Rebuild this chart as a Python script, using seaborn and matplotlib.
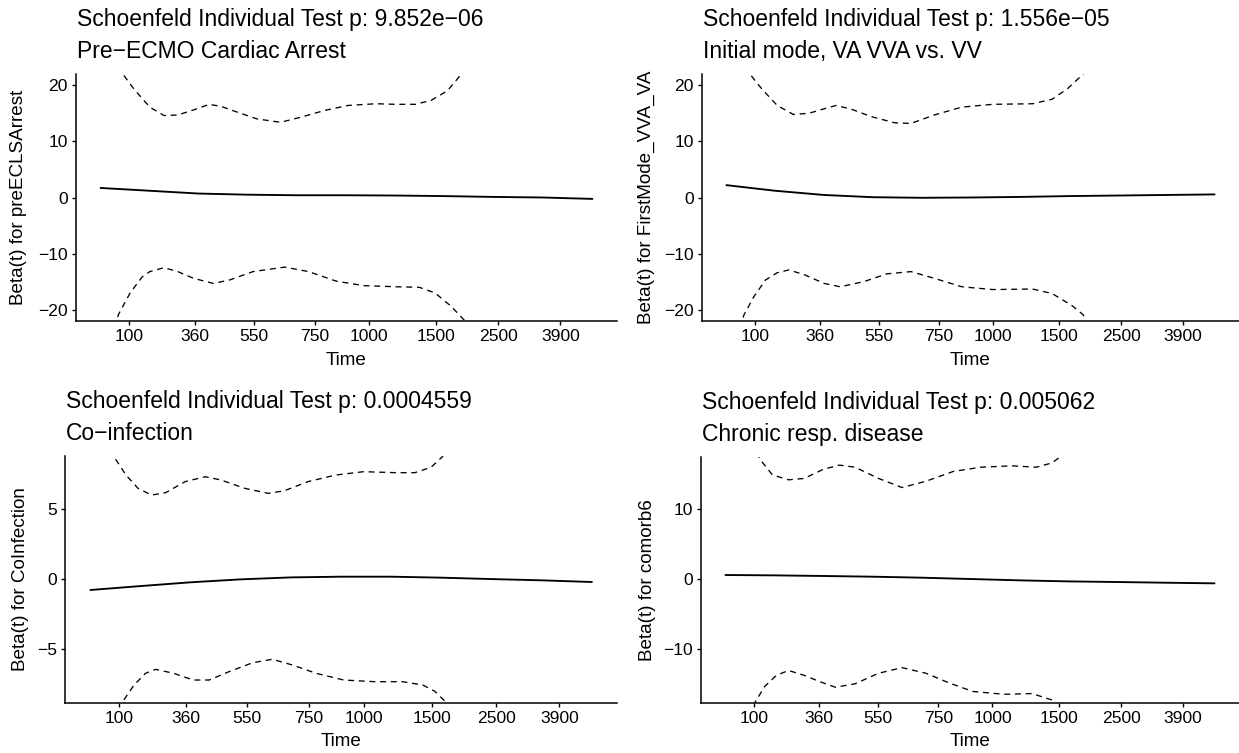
import matplotlib
matplotlib.use("Agg")
import matplotlib.pyplot as plt
import seaborn as sns
import pandas as pd

# ---------------- data (x = transformed time, 0..1 over the data range) ----------------
tick_pos = [0.058, 0.191, 0.312, 0.435, 0.546, 0.681, 0.809, 0.935]
tick_lab = ["100", "360", "550", "750", "1000", "1500", "2500", "3900"]

titles = ["Schoenfeld Individual Test p: 9.852e\u221206",
          "Schoenfeld Individual Test p: 1.556e\u221205",
          "Schoenfeld Individual Test p: 0.0004559",
          "Schoenfeld Individual Test p: 0.005062"]
subtitles = ["Pre\u2212ECMO Cardiac Arrest",
             "Initial mode, VA VVA vs. VV",
             "Co\u2212infection",
             "Chronic resp. disease"]
ylabels = ["Beta(t) for preECLSArrest",
           "Beta(t) for FirstMode_VVA_VA",
           "Beta(t) for CoInfection",
           "Beta(t) for comorb6"]
yticks = [[-20, -10, 0, 10, 20], [-20, -10, 0, 10, 20], [-5, 0, 5], [-10, 0, 10]]
ylims = [(-22, 22), (-22, 22), (-8.81, 8.81), (-17.6, 17.5)]

# Panel 1: preECLSArrest
p1_fit_t = [0.0, 0.1, 0.2, 0.3, 0.4, 0.5, 0.6, 0.7, 0.8, 0.9, 1.0]
p1_fit_y = [1.7, 1.2, 0.7, 0.5, 0.4, 0.4, 0.35, 0.25, 0.1, 0.0, -0.25]
p1_up_t = [0.025, 0.046, 0.068, 0.10, 0.129, 0.157, 0.189, 0.221, 0.246, 0.278, 0.318,
           0.366, 0.407, 0.455, 0.503, 0.56, 0.60, 0.64, 0.672, 0.705, 0.733, 0.75]
p1_up_y = [25.0, 21.9, 19.3, 16.1, 14.6, 14.7, 15.6, 16.6, 16.2, 15.2, 14.0,
           13.4, 14.3, 15.5, 16.4, 16.7, 16.6, 16.6, 17.3, 19.0, 21.9, 25.0]
p1_lo_t = [0.025, 0.036, 0.06, 0.085, 0.10, 0.129, 0.157, 0.189, 0.229, 0.262, 0.31,
           0.374, 0.423, 0.479, 0.535, 0.60, 0.648, 0.68, 0.713, 0.741, 0.755]
p1_lo_y = [-25.0, -20.9, -17.0, -14.1, -13.2, -12.5, -13.2, -14.4, -15.3, -14.7, -13.2,
           -12.4, -13.2, -14.9, -15.7, -15.9, -16.0, -17.0, -19.4, -22.0, -25.0]

# Panel 2: FirstMode_VVA_VA
p2_fit_t = [0.0, 0.1, 0.2, 0.3, 0.4, 0.5, 0.6, 0.7, 0.8, 0.9, 1.0]
p2_fit_y = [2.2, 1.2, 0.45, 0.05, -0.05, 0.0, 0.1, 0.25, 0.35, 0.45, 0.55]
p2_up_t = [0.03, 0.048, 0.072, 0.104, 0.137, 0.169, 0.2, 0.225, 0.257, 0.297, 0.345,
           0.378, 0.426, 0.482, 0.546, 0.627, 0.667, 0.699, 0.731, 0.75]
p2_up_y = [25.0, 22.0, 19.4, 16.4, 14.8, 15.0, 15.8, 16.4, 15.7, 14.4, 13.3,
           13.2, 14.7, 16.1, 16.6, 16.7, 17.5, 19.4, 22.0, 25.0]
p2_lo_t = [0.02, 0.036, 0.056, 0.08, 0.104, 0.128, 0.161, 0.2, 0.233, 0.281, 0.329,
           0.378, 0.426, 0.482, 0.546, 0.627, 0.667, 0.707, 0.731, 0.75]
p2_lo_y = [-25.0, -20.9, -17.7, -14.7, -13.4, -12.9, -13.8, -15.3, -15.9, -15.0, -13.6,
           -13.2, -14.4, -15.9, -16.4, -16.3, -17.1, -19.2, -20.9, -25.0]

# Panel 3: CoInfection
p3_fit_t = [0.0, 0.1, 0.2, 0.3, 0.4, 0.5, 0.6, 0.7, 0.8, 0.9, 1.0]
p3_fit_y = [-0.76, -0.48, -0.21, 0.0, 0.14, 0.19, 0.19, 0.12, 0.02, -0.07, -0.19]
p3_up_t = [0.035, 0.047, 0.071, 0.095, 0.122, 0.15, 0.189, 0.229, 0.26, 0.308, 0.355,
           0.387, 0.434, 0.489, 0.545, 0.608, 0.647, 0.679, 0.702, 0.715]
p3_up_y = [10.0, 8.76, 7.45, 6.5, 6.02, 6.19, 6.98, 7.33, 7.1, 6.5, 6.14,
           6.33, 6.98, 7.45, 7.69, 7.62, 7.62, 8.0, 8.76, 10.0]
p3_lo_t = [0.05, 0.063, 0.087, 0.11, 0.13, 0.166, 0.205, 0.237, 0.276, 0.324, 0.363,
           0.403, 0.45, 0.505, 0.568, 0.623, 0.663, 0.687, 0.71, 0.725]
p3_lo_y = [-10.0, -8.81, -7.55, -6.71, -6.43, -6.71, -7.19, -7.19, -6.6, -5.95, -5.71,
           -6.12, -6.71, -7.19, -7.31, -7.31, -7.55, -8.0, -8.81, -10.0]

# Panel 4: comorb6
p4_fit_t = [0.0, 0.1, 0.2, 0.3, 0.4, 0.5, 0.6, 0.7, 0.8, 0.9, 1.0]
p4_fit_y = [0.62, 0.57, 0.48, 0.38, 0.24, 0.05, -0.14, -0.29, -0.38, -0.48, -0.57]
p4_up_t = [0.055, 0.072, 0.096, 0.129, 0.161, 0.2, 0.233, 0.265, 0.313, 0.361, 0.41,
           0.466, 0.522, 0.586, 0.635, 0.667, 0.687, 0.70]
p4_up_y = [19.5, 17.0, 14.9, 14.2, 14.4, 15.7, 16.3, 16.0, 14.4, 13.1, 14.0,
           15.4, 16.0, 16.2, 16.0, 16.6, 17.6, 19.5]
p4_lo_t = [0.05, 0.06, 0.08, 0.104, 0.129, 0.161, 0.193, 0.225, 0.265, 0.313, 0.361,
           0.41, 0.458, 0.506, 0.57, 0.627, 0.667, 0.675, 0.69]
p4_lo_y = [-19.5, -17.6, -15.3, -13.7, -13.0, -13.7, -14.6, -15.4, -14.9, -13.4, -12.6,
           -13.4, -14.8, -16.0, -16.4, -16.3, -17.2, -17.6, -19.5]

panels = [
    (p1_fit_t, p1_fit_y, p1_up_t, p1_up_y, p1_lo_t, p1_lo_y),
    (p2_fit_t, p2_fit_y, p2_up_t, p2_up_y, p2_lo_t, p2_lo_y),
    (p3_fit_t, p3_fit_y, p3_up_t, p3_up_y, p3_lo_t, p3_lo_y),
    (p4_fit_t, p4_fit_y, p4_up_t, p4_up_y, p4_lo_t, p4_lo_y),
]

# ---------------- layout (pixels) ----------------
W, H = 1239, 753
rects_px = [(76, 74, 617, 321), (702, 74, 1239, 321),
            (65.3, 456, 617, 702.7), (701, 456.7, 1239, 702.7)]
ylabel_x = [-0.107, -0.104, -0.082, -0.100]

sns.set_theme(style="ticks")
plt.rcParams["font.family"] = ["Liberation Sans", "DejaVu Sans"]
plt.rcParams["axes.unicode_minus"] = True

fig = plt.figure(figsize=(W / 100, H / 100), dpi=100)
fig.patch.set_facecolor("white")

for i, (l, t, r, b) in enumerate(rects_px):
    ax = fig.add_axes([l / W, 1 - b / H, (r - l) / W, (b - t) / H])
    ax.set_facecolor("white")
    ft, fy, ut, uy, lt, ly = panels[i]
    sns.lineplot(data=pd.DataFrame({"t": ft, "y": fy}), x="t", y="y", ax=ax,
                 color="black", linewidth=1.35, estimator=None)
    sns.lineplot(data=pd.DataFrame({"t": ut, "y": uy}), x="t", y="y", ax=ax,
                 color="black", linewidth=0.95, estimator=None,
                 linestyle=(0, (4.5, 3.6)))
    sns.lineplot(data=pd.DataFrame({"t": lt, "y": ly}), x="t", y="y", ax=ax,
                 color="black", linewidth=0.95, estimator=None,
                 linestyle=(0, (4.5, 3.6)))
    ax.set_xlim(-0.05, 1.05)
    ax.set_ylim(*ylims[i])
    ax.set_xticks(tick_pos)
    ax.set_xticklabels(tick_lab)
    ax.set_yticks(yticks[i])
    for s in ["top", "right"]:
        ax.spines[s].set_visible(False)
    for s in ["left", "bottom"]:
        ax.spines[s].set_color("black")
        ax.spines[s].set_linewidth(1.1)
    ax.tick_params(axis="both", direction="out", length=3, width=1.0,
                   colors="black", labelsize=12.6, pad=3.0)
    ax.set_xlabel("Time", fontsize=13.6, color="black", va="center")
    ax.xaxis.set_label_coords(0.5, -0.158)
    ax.set_ylabel(ylabels[i], fontsize=13.6, color="black", va="center")
    ax.yaxis.set_label_coords(ylabel_x[i], 0.5)
    ax.grid(False)
    ax.annotate(titles[i], xy=(0, 1), xycoords="axes fraction",
                xytext=(0.7, 34.5), textcoords="offset points",
                ha="left", va="baseline", fontsize=16.5, color="black")
    ax.annotate(subtitles[i], xy=(0, 1), xycoords="axes fraction",
                xytext=(0.7, 11.5), textcoords="offset points",
                ha="left", va="baseline", fontsize=16.5, color="black")

fig.savefig("out.png", dpi=100, facecolor="white")
